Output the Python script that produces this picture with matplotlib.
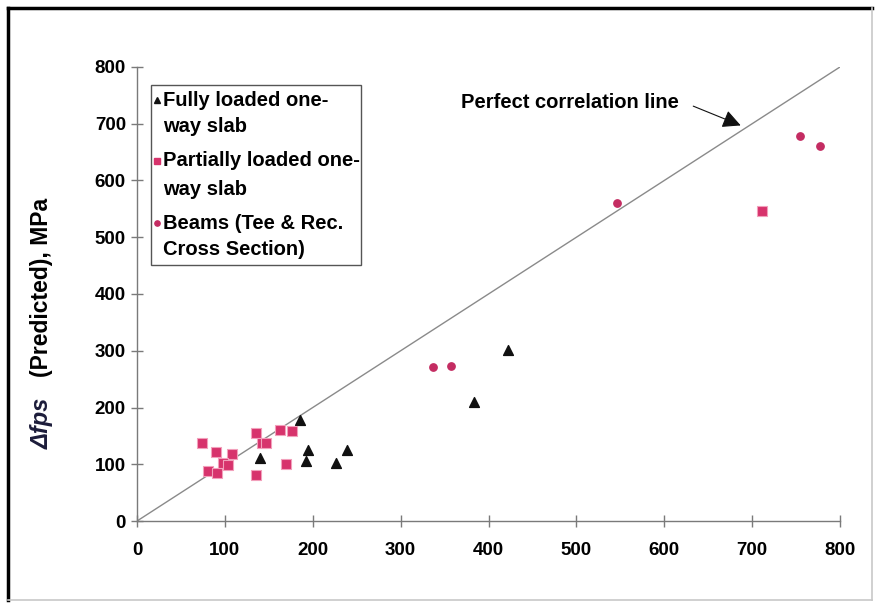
import numpy as np
import matplotlib
matplotlib.use("Agg")
import matplotlib.pyplot as plt
from matplotlib.lines import Line2D
from matplotlib.patches import Rectangle

plt.rcParams['font.family'] = ['Liberation Sans', 'DejaVu Sans']

# fully loaded one-way slabs (measured, predicted) in MPa
slab_full_x = [186, 140, 195, 192, 226, 239, 384, 422]
slab_full_y = [178, 111, 125, 106, 103, 126, 209, 302]

# partially loaded one-way slabs
slab_part_x = [74, 90, 108, 81, 91, 98, 104, 135, 142, 147, 135, 163, 176, 170, 711]
slab_part_y = [137, 122, 118, 88, 85, 103, 99, 155, 138, 137, 81, 160, 159, 100, 546]

# beams, tee and rectangular sections
beam_x = [337, 357, 546, 754, 777]
beam_y = [272, 273, 560, 678, 661]

ticks = [0, 100, 200, 300, 400, 500, 600, 700, 800]

fig = plt.figure(figsize=(8.75, 6.05), dpi=100)
ax = fig.add_axes([0.1566, 0.1388, 0.8034, 0.7505])

pink = '#d7336c'
beam_col = '#c42c62'
ax.plot([0, 800], [0, 800], color='#8a8a8a', lw=1.0, zorder=1)
ax.scatter(slab_full_x, slab_full_y, marker='^', s=50, color='#111111', zorder=3)
ax.scatter(slab_part_x, slab_part_y, marker='s', s=50, color=pink,
           edgecolors='#f2a0bb', linewidths=0.8, zorder=3)
ax.scatter(beam_x, beam_y, marker='o', s=28, color=beam_col, zorder=3)

ax.set_xlim(0, 800)
ax.set_ylim(0, 800)
ax.set_xticks(ticks)
ax.set_yticks(ticks)
for s in ['top', 'right']:
    ax.spines[s].set_visible(False)
for s in ['left', 'bottom']:
    ax.spines[s].set_color('#7a7a7a')
    ax.spines[s].set_linewidth(1.0)
ax.tick_params(direction='inout', length=8, width=1, color='#7a7a7a',
               labelsize=13.5)
ax.tick_params(axis='x', pad=11)
ax.tick_params(axis='y', pad=4)
for lab in ax.get_xticklabels() + ax.get_yticklabels():
    lab.set_fontweight('bold')

# y axis label: italic delta-fps followed by the rest
fig.text(0.048, 0.301, 'Δfps', rotation=90, ha='center', va='center',
         fontsize=17, fontweight='bold', style='italic', color='#1c1c3a')
fig.text(0.048, 0.525, '(Predicted), MPa', rotation=90, ha='center', va='center',
         fontsize=16.5, fontweight='bold')

# annotation for the 1:1 line
ax.text(369, 738, 'Perfect correlation line', fontsize=14.5, fontweight='bold',
        va='center', ha='left')
ax.annotate('', xy=(687, 697), xytext=(633, 731),
            arrowprops=dict(arrowstyle='-|>,head_length=1.1,head_width=0.55',
                            color='#111111', lw=0.8, shrinkA=0, shrinkB=0),
            zorder=4)

# legend box, marker sits beside the first line of each entry
tr = ax.transAxes
ax.add_patch(Rectangle((0.0199, 0.564), 0.2987, 0.396, transform=tr,
                       facecolor='white', edgecolor='#555555', lw=1.0, zorder=5))
entries = [
    ('^', '#111111', 4.0, ['Fully loaded one-', 'way slab'], 0.927, 0.868),
    ('s', pink, 4.0, ['Partially loaded one-', 'way slab'], 0.793, 0.731),
    ('o', beam_col, 3.8, ['Beams (Tee & Rec.', 'Cross Section)'], 0.656, 0.599),
]
for mk, col, ms, lines, y1, y2 in entries:
    ax.plot([0.0284], [y1], marker=mk, color=col, markersize=ms, ls='',
            transform=tr, zorder=6, clip_on=False)
    for txt, yy in zip(lines, [y1, y2]):
        ax.text(0.037, yy, txt, transform=tr, fontsize=14.5, fontweight='bold',
                va='center', ha='left', zorder=6)

# outer frame around the whole figure
fig.add_artist(Line2D([0.009, 0.009], [0.008, 0.987], color='black', lw=2.5,
                      transform=fig.transFigure))
fig.add_artist(Line2D([0.009, 0.997], [0.987, 0.987], color='black', lw=2.5,
                      transform=fig.transFigure))
fig.add_artist(Line2D([0.997, 0.997], [0.008, 0.987], color='#c8c8c8', lw=1.2,
                      transform=fig.transFigure))
fig.add_artist(Line2D([0.009, 0.997], [0.008, 0.008], color='#c8c8c8', lw=1.2,
                      transform=fig.transFigure))

fig.savefig('out.png', dpi=100)
